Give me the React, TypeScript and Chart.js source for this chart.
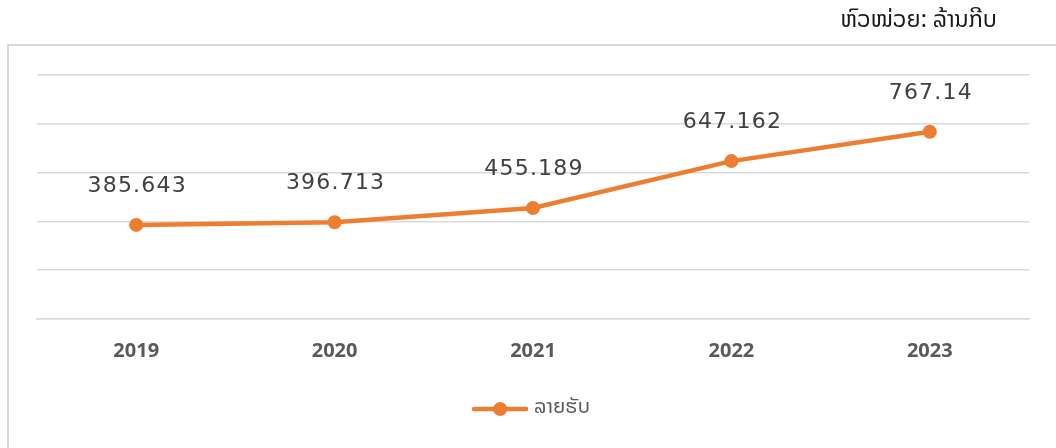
import React, { useEffect, useRef } from "react";
import { Chart, registerables } from "chart.js";

Chart.register(...registerables);

const years = ["2019", "2020", "2021", "2022", "2023"];
const revenue = [385.643, 396.713, 455.189, 647.162, 767.14];
const revenueLabels = ["385.643", "396.713", "455.189", "647.162", "767.14"];
const seriesName = "ລາຍຮັບ";
const unitTitle = "ຫົວໜ່ວຍ: ລ້ານກີບ";

const ORANGE = "#ED7D31";
const GRID = "#d9d9d9";
const LAO_FONT = "'Noto Sans Lao', 'DejaVu Sans', 'Noto Sans', sans-serif";

function makeLegendIcon(): HTMLCanvasElement {
  const c = document.createElement("canvas");
  c.width = 56;
  c.height = 16;
  const ctx = c.getContext("2d")!;
  ctx.strokeStyle = ORANGE;
  ctx.lineWidth = 4.5;
  ctx.lineCap = "round";
  ctx.beginPath();
  ctx.moveTo(2, 8);
  ctx.lineTo(54, 8);
  ctx.stroke();
  ctx.fillStyle = ORANGE;
  ctx.beginPath();
  ctx.arc(28, 8, 7, 0, Math.PI * 2);
  ctx.fill();
  return c;
}

const framePlugin = {
  id: "frame",
  beforeDraw(chart: any) {
    const ctx = chart.ctx;
    ctx.save();
    ctx.strokeStyle = GRID;
    ctx.lineWidth = 2;
    ctx.beginPath();
    ctx.moveTo(1056, 45);
    ctx.lineTo(8, 45);
    ctx.lineTo(8, 460);
    ctx.stroke();
    ctx.restore();
  },
};

const valueLabelPlugin = {
  id: "valueLabels",
  afterDatasetsDraw(chart: any) {
    const ctx = chart.ctx;
    const meta = chart.getDatasetMeta(0);
    ctx.save();
    ctx.font = "22px 'DejaVu Sans', sans-serif";
    (ctx as any).letterSpacing = "1.2px";
    ctx.fillStyle = "#404040";
    ctx.textAlign = "center";
    ctx.textBaseline = "middle";
    meta.data.forEach((pt: any, i: number) => {
      ctx.fillText(revenueLabels[i], pt.x + 1, pt.y - 39);
    });
    ctx.restore();
  },
};

export default function App() {
  const ref = useRef<HTMLCanvasElement>(null);

  useEffect(() => {
    if (!ref.current) return;
    const chart = new Chart(ref.current, {
      type: "line",
      data: {
        labels: years,
        datasets: [
          {
            label: seriesName,
            data: revenue,
            borderColor: ORANGE,
            backgroundColor: ORANGE,
            borderWidth: 4.5,
            pointRadius: 7,
            pointHoverRadius: 7,
            pointBackgroundColor: ORANGE,
            pointBorderColor: ORANGE,
            pointBorderWidth: 0,
            tension: 0,
          },
        ],
      },
      options: {
        responsive: false,
        animation: false,
        layout: { padding: { top: 75, left: 37, right: 27, bottom: 19 } },
        scales: {
          x: {
            offset: true,
            grid: { display: false },
            border: { display: true, color: GRID, width: 1.5 },
            ticks: {
              color: "#595959",
              font: { family: "'Open Sans', sans-serif", size: 20, weight: "bold" },
              padding: 12,
            },
            afterFit(scale: any) {
              scale.height = 70;
            },
          },
          y: {
            min: 0,
            max: 1000,
            ticks: { display: false, stepSize: 200 },
            border: { display: false },
            grid: { color: GRID, lineWidth: 1.5, drawTicks: false },
          },
        },
        plugins: {
          legend: {
            position: "bottom",
            labels: {
              usePointStyle: true,
              pointStyle: makeLegendIcon() as any,
              pointStyleWidth: 48,
              color: "#595959",
              font: { family: LAO_FONT, size: 20 },
              padding: 10,
            },
          },
          tooltip: { enabled: false },
        },
      },
      plugins: [framePlugin, valueLabelPlugin],
    });
    return () => chart.destroy();
  }, []);

  return (
    <div style={{ position: "absolute", left: 0, top: 0, width: 1056, height: 448 }}>
      <canvas ref={ref} width={1056} height={448} style={{ display: "block" }} />
      <div
        style={{
          position: "absolute",
          right: 59,
          top: 0,
          fontFamily: LAO_FONT,
          fontSize: 23,
          color: "#1a1a1a",
          whiteSpace: "nowrap",
        }}
      >
        {unitTitle}
      </div>
    </div>
  );
}
